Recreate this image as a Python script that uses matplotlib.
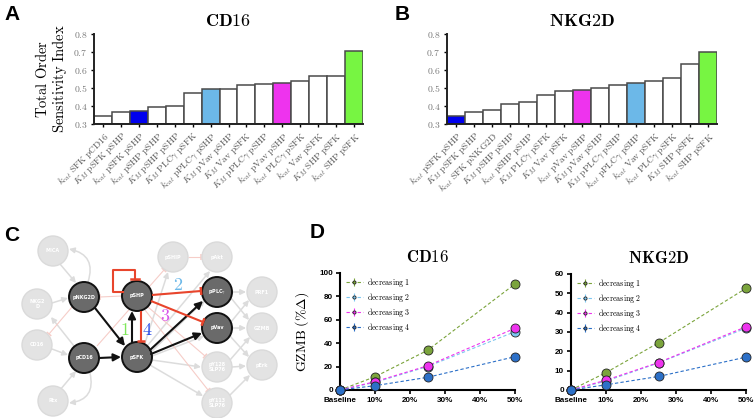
import numpy as np
import matplotlib
matplotlib.use("Agg")
import matplotlib.pyplot as plt
from matplotlib.patches import Circle, FancyArrowPatch

plt.rcParams['mathtext.fontset'] = 'cm'

# --- Panel A / B data (total order sensitivity index) ---
CD16_LABELS = [
    r'$k_{cat}\ \mathrm{SFK\ pCD16}$', r'$K_M\ \mathrm{pSFK\ pSHP}$', r'$k_{cat}\ \mathrm{pSFK\ pSHP}$',
    r'$k_{cat}\ \mathrm{pSHP\ pSHP}$', r'$K_M\ \mathrm{pSHP\ pSHP}$', r'$K_M\ \mathrm{PLC}\gamma\ \mathrm{pSFK}$',
    r'$k_{cat}\ \mathrm{pPLC}\gamma\ \mathrm{pSHP}$', r'$K_M\ \mathrm{pVav\ pSHP}$', r'$K_M\ \mathrm{Vav\ pSFK}$',
    r'$K_M\ \mathrm{pPLC}\gamma\ \mathrm{pSHP}$', r'$k_{cat}\ \mathrm{pVav\ pSHP}$', r'$k_{cat}\ \mathrm{PLC}\gamma\ \mathrm{pSFK}$',
    r'$k_{cat}\ \mathrm{Vav\ pSFK}$', r'$K_M\ \mathrm{SHP\ pSFK}$', r'$k_{cat}\ \mathrm{SHP\ pSFK}$',
]
CD16_VALUES = [0.343, 0.368, 0.372, 0.397, 0.402, 0.472, 0.492, 0.496, 0.515, 0.520,
               0.526, 0.538, 0.564, 0.567, 0.703]
CD16_HIGHLIGHT = {2: '#0000ee', 6: '#6cb8e8', 10: '#ee33ee', 14: '#77f542'}

NKG2D_LABELS = [
    r'$k_{cat}\ \mathrm{pSFK\ pSHP}$', r'$K_M\ \mathrm{pSFK\ pSHP}$', r'$k_{cat}\ \mathrm{SFK\ pNKG2D}$',
    r'$K_M\ \mathrm{pSHP\ pSHP}$', r'$k_{cat}\ \mathrm{pSHP\ pSHP}$', r'$K_M\ \mathrm{PLC}\gamma\ \mathrm{pSFK}$',
    r'$K_M\ \mathrm{Vav\ pSFK}$', r'$k_{cat}\ \mathrm{pVav\ pSHP}$', r'$K_M\ \mathrm{pVav\ pSHP}$',
    r'$K_M\ \mathrm{pPLC}\gamma\ \mathrm{pSHP}$', r'$k_{cat}\ \mathrm{pPLC}\gamma\ \mathrm{pSHP}$', r'$k_{cat}\ \mathrm{Vav\ pSFK}$',
    r'$k_{cat}\ \mathrm{PLC}\gamma\ \mathrm{pSFK}$', r'$K_M\ \mathrm{SHP\ pSFK}$', r'$k_{cat}\ \mathrm{SHP\ pSFK}$',
]
NKG2D_VALUES = [0.344, 0.365, 0.376, 0.409, 0.425, 0.463, 0.483, 0.487, 0.498, 0.516,
                0.529, 0.537, 0.558, 0.633, 0.702]
NKG2D_HIGHLIGHT = {0: '#0000ee', 7: '#ee33ee', 10: '#6cb8e8', 14: '#77f542'}

# --- Panel D data (GZMB % change) ---
D_X = [0, 10, 25, 50]
D_XTICKS = [0, 10, 20, 30, 40, 50]
D_XTICKLABELS = ['Baseline', '10%', '20%', '30%', '40%', '50%']
D_NAMES = ['decreasing 1', 'decreasing 2', 'decreasing 3', 'decreasing 4']
D_COLORS = ['#7ba43c', '#7cc6f0', '#ee33ee', '#2c70c8']
CD16_GZMB = [
    [0, 11.3, 33.8, 90.4],
    [0, 6.5, 20.0, 49.7],
    [0, 7.1, 20.6, 52.6],
    [0, 3.7, 10.8, 28.4],
]
CD16_ERR = [[0, 0.5, 0.8, 1.5], [0, 0.3, 0.5, 1.0], [0, 0.3, 0.5, 1.0], [0, 0.2, 0.4, 0.8]]
NKG2D_GZMB = [
    [0, 9.0, 24.4, 52.6],
    [0, 4.6, 14.0, 32.0],
    [0, 5.1, 14.2, 32.7],
    [0, 2.7, 7.0, 17.0],
]
NKG2D_ERR = [[0, 0.4, 0.7, 2.0], [0, 0.3, 0.5, 1.0], [0, 0.3, 0.5, 1.0], [0, 0.2, 0.4, 0.6]]

# --- Panel C network (pixel coords, y down) ---
NODES = {
    'MICA': (53, 251, 'MICA', False), 'NKG2D': (37, 304, 'NKG2\nD', False),
    'CD16': (37, 345, 'CD16', False), 'Rtx': (53, 401, 'Rtx', False),
    'pNKG2D': (84, 297, 'pNKG2D', True), 'pCD16': (84, 358, 'pCD16', True),
    'pSHP': (137, 296, 'pSHP', True), 'pSFK': (137, 357, 'pSFK', True),
    'pSHIP': (173, 257, 'pSHIP', False), 'pAkt': (217, 257, 'pAkt', False),
    'pPLCg': (217, 292, r'pPLC$\gamma$', True), 'pVav': (217, 328, 'pVav', True),
    'pY128': (217, 367, 'pY128\nSLP76', False), 'pY113': (217, 403, 'pY113\nSLP76', False),
    'PRF1': (262, 292, 'PRF1', False), 'GZMB': (262, 328, 'GZMB', False),
    'pErk': (262, 365, 'pErk', False),
}
R = 15

FADED_ARROWS = [((145, 343), (168, 272)), ((148, 345), (210, 271)), ((152, 360), (201, 367)),
                ((150, 365), (203, 396)), ((60, 264), (76, 283)), ((52, 303), (68, 298)),
                ((74, 346), (51, 317)), ((52, 349), (68, 355)), ((60, 390), (76, 371)),
                ((232, 292), (246, 292)), ((231, 298), (249, 320)), ((231, 322), (249, 300)),
                ((232, 328), (246, 328)), ((230, 336), (249, 357)), ((232, 367), (246, 366)),
                ((230, 395), (250, 375)), ((230, 360), (250, 337)), ((151, 352), (205, 300)),
                ((152, 356), (204, 336))]
FADED_ARCS = [((88, 282), (69, 249), 0.55), ((90, 373), (69, 403), -0.55)]
FADED_BARS = [((188, 257), (201, 257)), ((97, 346), (164, 270)), ((148, 307), (205, 356)),
              ((145, 310), (208, 390)), ((122, 296), (100, 297)), ((72, 307), (49, 334))]
DARK_ARROWS = [((95, 308), (125, 346)), ((99, 358), (121, 357)), ((132, 342), (132, 311)),
               ((150, 350), (203, 301)), ((151, 354), (202, 333))]
RED_BARS = [((152, 295), (201, 291)), ((151, 301), (203, 322)), ((141, 311), (141, 341))]
NUMBERS = [('1', 125, 330, '#7ee85a'), ('4', 147, 330, '#2b4de8'),
           ('2', 178, 285, '#6cb8e8'), ('3', 165, 316, '#d955ea')]


def px_axes(fig, x0, y0, x1, y1):
    W, H = 755.0, 418.0
    return fig.add_axes([x0 / W, 1 - y1 / H, (x1 - x0) / W, (y1 - y0) / H])


def bar_panel(ax, labels, values, highlight, title, ylabel=None):
    colors = [highlight.get(i, 'white') for i in range(len(values))]
    x = np.arange(len(values))
    ax.bar(x, np.array(values) - 0.3, bottom=0.3, width=1.0, color=colors,
           edgecolor='#4a4a4a', linewidth=1.1)
    ax.set_xlim(-0.5, len(values) - 0.5)
    ax.set_ylim(0.3, 0.8)
    ax.set_yticks([0.3, 0.4, 0.5, 0.6, 0.7, 0.8])
    ax.set_yticklabels(['$%.1f$' % v for v in [0.3, 0.4, 0.5, 0.6, 0.7, 0.8]])
    ax.set_xticks(x)
    ax.set_xticklabels(labels, rotation=45, ha='right', rotation_mode='anchor')
    ax.tick_params(axis='y', labelsize=7, labelcolor='#777777', length=2.5, width=1, pad=2)
    ax.tick_params(axis='x', labelsize=6.8, labelcolor='#555555', length=2.5, width=1, pad=2)
    for s in ['top', 'right']:
        ax.spines[s].set_visible(False)
    for s in ['left', 'bottom']:
        ax.spines[s].set_linewidth(1.4)
        ax.spines[s].set_color('#222222')
    ax.set_title(r'$\mathbf{%s}$' % title, fontsize=13, pad=6)
    if ylabel:
        ax.set_ylabel(ylabel, fontsize=10.5, linespacing=1.05, labelpad=3)


def gzmb_panel(ax, data, errs, title, yticks, ylabel=None):
    for vals, err, color, name in zip(data, errs, D_COLORS, D_NAMES):
        ax.errorbar(D_X, vals, yerr=err, color=color, linestyle='--', linewidth=0.8,
                    dashes=(3, 2), marker='o', markersize=6.5, markeredgecolor='#222222',
                    markeredgewidth=0.6, ecolor=color, elinewidth=0.8, capsize=0,
                    label=r'$\mathrm{%s}$' % name.replace(' ', r'\ '), clip_on=False, zorder=3)
    ax.set_xlim(0, 50)
    ax.set_ylim(yticks[0], yticks[-1])
    ax.set_yticks(yticks)
    ax.set_xticks(D_XTICKS)
    ax.set_xticklabels(D_XTICKLABELS)
    ax.tick_params(labelsize=5.8, length=3, width=1.2, pad=2)
    for lab in ax.get_xticklabels() + ax.get_yticklabels():
        lab.set_fontweight('bold')
        lab.set_family('Liberation Sans')
    for s in ['top', 'right']:
        ax.spines[s].set_visible(False)
    for s in ['left', 'bottom']:
        ax.spines[s].set_linewidth(1.5)
    ax.set_title(r'$\mathbf{%s}$' % title, fontsize=12, pad=8)
    ax.legend(loc='upper left', bbox_to_anchor=(0.0, 1.02), frameon=False, fontsize=5.7,
              markerscale=0.35, handlelength=2.2, handletextpad=0.5, labelspacing=0.25,
              borderaxespad=0.3)
    if ylabel:
        ax.set_ylabel(ylabel, fontsize=10, labelpad=6)


def bar_end(ax, p0, p1, color, lw, half=4.0, zorder=2):
    p0, p1 = np.array(p0, float), np.array(p1, float)
    ax.plot([p0[0], p1[0]], [p0[1], p1[1]], color=color, lw=lw, solid_capstyle='butt', zorder=zorder)
    u = (p1 - p0) / np.linalg.norm(p1 - p0)
    n = np.array([-u[1], u[0]])
    a, b = p1 + n * half, p1 - n * half
    ax.plot([a[0], b[0]], [a[1], b[1]], color=color, lw=lw + 0.3, solid_capstyle='butt', zorder=zorder)


def network_panel(ax):
    ax.set_xlim(0, 290)
    ax.set_ylim(418, 225)
    ax.axis('off')
    for p0, p1 in FADED_ARROWS:
        ax.add_patch(FancyArrowPatch(p0, p1, arrowstyle='-|>', mutation_scale=8,
                                     color='#dcdcdc', lw=1.1, shrinkA=0, shrinkB=0, zorder=1))
    for p0, p1, rad in FADED_ARCS:
        ax.add_patch(FancyArrowPatch(p0, p1, arrowstyle='-|>', mutation_scale=8,
                                     connectionstyle='arc3,rad=%s' % rad,
                                     color='#dcdcdc', lw=1.1, shrinkA=0, shrinkB=0, zorder=1))
    for p0, p1 in FADED_BARS:
        bar_end(ax, p0, p1, '#f6cdc8', 0.8, half=3.0, zorder=1)

    for key, (x, y, text, dark) in NODES.items():
        if dark:
            ax.add_patch(Circle((x, y), R, facecolor='#6a6a6a', edgecolor='#111111', lw=1.4, zorder=4))
        else:
            ax.add_patch(Circle((x, y), R, facecolor='#e3e3e3', edgecolor='#dadada', lw=1.0, zorder=3))
        ax.text(x, y, text, ha='center', va='center', fontsize=3.5, color='white',
                fontweight='bold', linespacing=1.0, zorder=5)

    for p0, p1 in DARK_ARROWS:
        ax.add_patch(FancyArrowPatch(p0, p1, arrowstyle='-|>', mutation_scale=11,
                                     color='#111111', lw=1.5, shrinkA=0, shrinkB=0, zorder=6))
    for p0, p1 in RED_BARS:
        bar_end(ax, p0, p1, '#e8452c', 1.5, half=4.0, zorder=6)
    # pSHP self inhibition loop
    ax.plot([123, 113, 113, 135, 135], [292, 292, 270, 270, 279], color='#e8452c',
            lw=1.5, zorder=6)
    ax.plot([131, 139], [279, 279], color='#e8452c', lw=1.8, zorder=6)

    for t, x, y, c in NUMBERS:
        ax.text(x, y, r'$\mathrm{%s}$' % t, color=c, fontsize=13, ha='center', va='center', zorder=7)


def main():
    fig = plt.figure(figsize=(7.55, 4.18), dpi=100)

    ax_a = px_axes(fig, 94, 34, 363, 124)
    bar_panel(ax_a, CD16_LABELS, CD16_VALUES, CD16_HIGHLIGHT, 'CD16',
              ylabel='$\\mathrm{Total\\ Order}$\n$\\mathrm{Sensitivity\\ Index}$')
    ax_b = px_axes(fig, 447, 34, 717, 124)
    bar_panel(ax_b, NKG2D_LABELS, NKG2D_VALUES, NKG2D_HIGHLIGHT, 'NKG2D')

    ax_c = px_axes(fig, 0, 225, 290, 418)
    network_panel(ax_c)

    ax_d1 = px_axes(fig, 340, 272.7, 515, 390)
    gzmb_panel(ax_d1, CD16_GZMB, CD16_ERR, 'CD16', [0, 20, 40, 60, 80, 100],
               ylabel=r'$\mathrm{GZMB}\ (\%\Delta)$')
    ax_d2 = px_axes(fig, 571, 274, 746, 390)
    gzmb_panel(ax_d2, NKG2D_GZMB, NKG2D_ERR, 'NKG2D', [0, 10, 20, 30, 40, 50, 60])

    for letter, x, y in [('A', 12, 14), ('B', 402, 14), ('C', 12, 236), ('D', 317, 233)]:
        fig.text(x / 755, 1 - y / 418, letter, fontsize=15, fontweight='bold',
                 family='Liberation Sans', ha='center', va='center')

    fig.savefig('out.png', dpi=100)


if __name__ == "__main__":
    main()
